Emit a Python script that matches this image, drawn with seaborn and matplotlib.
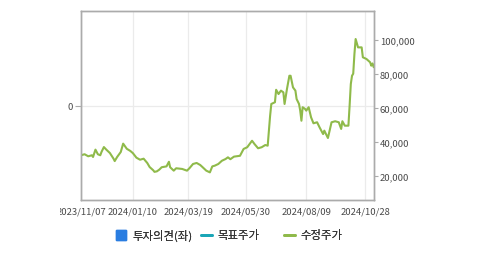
import matplotlib
matplotlib.use("Agg")
import matplotlib.pyplot as plt
from matplotlib.lines import Line2D
from matplotlib.transforms import Bbox, TransformedBbox, IdentityTransform
import seaborn as sns
import pandas as pd

# ---- data ----
session = [0, 3, 6, 9, 10, 12, 14, 16, 17, 19, 21, 24, 27, 28, 30, 33, 35, 38, 41, 43,
           46, 49, 52, 55, 57, 60, 61, 63, 65, 67, 71, 73, 74, 77, 79, 84, 88, 90, 93, 96,
           99, 101, 104, 107, 109, 111, 114, 117, 120, 122, 124, 127, 132, 135, 138, 142, 144,
           147, 150, 153, 155, 156, 157, 158, 161, 162, 164, 166, 168, 169, 171, 173, 174,
           176, 178, 179, 181, 182, 183, 184, 186, 187, 189, 191, 193, 196, 198, 201, 202,
           205, 208, 211, 214, 216, 217, 219, 222, 223, 224, 225, 226, 227, 228, 230, 233,
           234, 237, 240, 241, 242, 243]
price = [32300, 32900, 31700, 32300, 31300, 35600, 32900, 32300, 34200, 37100, 35600, 33600,
         30300, 28900, 31300, 34200, 39100, 36100, 34800, 33600, 30900, 29700, 30300, 27800,
         25400, 23500, 22600, 22900, 23900, 25300, 25800, 28500, 25300, 23300, 24700, 24300,
         23300, 24700, 27200, 27800, 26600, 25300, 23300, 22300, 25800, 26200, 27200, 29100,
         30100, 31100, 30000, 31500, 32000, 36000, 37000, 40800, 38900, 36400, 37000, 38300,
         37900, 46700, 55400, 62300, 63300, 70600, 68100, 70100, 69100, 62300, 71100, 78800,
         78800, 72000, 70100, 65200, 62300, 58400, 52500, 60400, 59400, 58400, 60400, 54500,
         51000, 51600, 48700, 44700, 46700, 42400, 51600, 52200, 51600, 47700, 52200, 49600,
         49600, 61300, 74000, 78800, 80000, 91500, 100300, 95400, 95400, 89600, 88600, 86700,
         84700, 86000, 83800]
tick_sessions = [0, 43, 89, 137, 187, 236]
tick_labels = ["2023/11/07", "2024/01/10", "2024/03/19", "2024/05/30", "2024/08/09", "2024/10/28"]
right_ticks = [20000, 40000, 60000, 80000, 100000]
legend_labels = ["투자의견(좌)", "목표주가", "수정주가"]

df = pd.DataFrame({"session": session, "price": price})

sns.set_style("white")
plt.rcParams["font.family"] = ["Noto Sans CJK KR", "DejaVu Sans"]

GREEN = "#8fba4a"
TEAL = "#1aa6b7"
BLUE = "#2a7de1"
FRAME = "#ababab"
GRID = "#ebebeb"
TXT = "#4a4a4a"

fig = plt.figure(figsize=(4.79, 2.55), dpi=100)
ax = fig.add_axes([81 / 479, 1 - 201 / 255, (373.7 - 81) / 479, (201 - 12) / 255])
ax2 = ax.twinx()

sns.lineplot(data=df, x="session", y="price", ax=ax2, color=GREEN, linewidth=1.5)

ax.set_xlim(0, 243)
ax.set_ylim(-1, 1)
ax.set_yticks([0])
ax.set_yticklabels(["0"])
ax.set_xticks(tick_sessions)
ax.set_xticklabels(tick_labels)
ax.grid(True, color=GRID, linewidth=0.9)
ax.set_axisbelow(True)

ax2.set_ylim(6140, 116670)
ax2.set_yticks(right_ticks)
ax2.set_yticklabels([f"{v:,}" for v in right_ticks])
ax2.set_xlabel("")
ax2.set_ylabel("")
ax2.grid(False)
ax.set_xlabel("")

for a in (ax, ax2):
    for s in a.spines.values():
        s.set_color(FRAME)
        s.set_linewidth(1.0)
        s.set_visible(True)

ax.tick_params(axis="x", length=3, color=FRAME, labelsize=6.8, labelcolor=TXT, pad=2)
ax.tick_params(axis="y", length=4, color=FRAME, labelsize=6.8, labelcolor=TXT, pad=2)
ax2.tick_params(axis="y", length=3, color=FRAME, labelsize=6.8, labelcolor=TXT, pad=1.5)

# clip first x label like the reference
clip = TransformedBbox(Bbox([[60, 0], [479, 255]]), IdentityTransform())
lbl = ax.get_xticklabels()[0]
lbl.set_clip_box(clip)
lbl.set_clip_on(True)

handles = [
    Line2D([0], [0], marker="s", color="none", markerfacecolor=BLUE, markeredgecolor=BLUE, markersize=7),
    Line2D([0], [0], color=TEAL, linewidth=2),
    Line2D([0], [0], color=GREEN, linewidth=2),
]
legend_x = [116, 201, 284]
ly = 1 - 236 / 255
for h, lab, xpx in zip(handles, legend_labels, legend_x):
    leg = fig.legend([h], [lab], loc="center left", bbox_to_anchor=(xpx / 479, ly),
                     frameon=False, fontsize=8.2, handlelength=0.95, handletextpad=0.5,
                     borderpad=0, borderaxespad=0, labelcolor="#333333")
    fig.add_artist(leg)

fig.savefig("out.png", dpi=100)
